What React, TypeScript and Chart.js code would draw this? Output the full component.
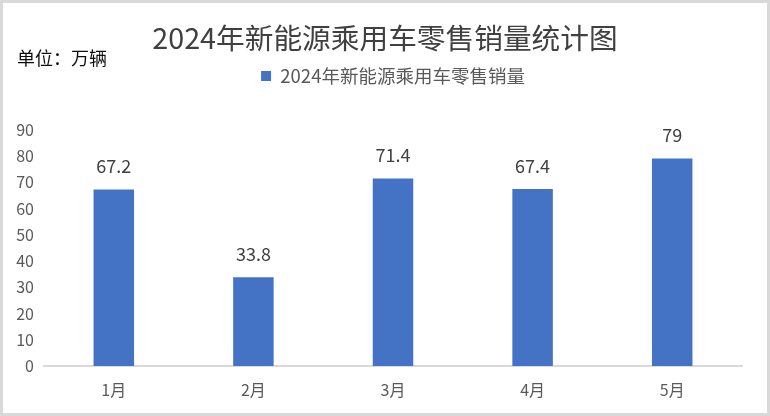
import React, { useEffect, useRef } from "react";
import { Chart, registerables } from "chart.js";

Chart.register(...registerables);

const categories = ["1月", "2月", "3月", "4月", "5月"];
const salesValues = [67.2, 33.8, 71.4, 67.4, 79];
const seriesName = "2024年新能源乘用车零售销量";
const chartTitle = "2024年新能源乘用车零售销量统计图";
const unitLabel = "单位：万辆";
const yTicks = { min: 0, max: 90, step: 10 };

const FONT = "'Noto Sans CJK SC', 'Noto Sans', sans-serif";

export default function App() {
  const ref = useRef<HTMLCanvasElement | null>(null);

  useEffect(() => {
    if (!ref.current) return;
    Chart.defaults.font.family = FONT;

    const framePlugin = {
      id: "frame",
      beforeDraw(chart: any) {
        const ctx = chart.ctx;
        ctx.save();
        ctx.fillStyle = "#ffffff";
        ctx.fillRect(0, 0, chart.width, chart.height);
        ctx.strokeStyle = "#d9d9d9";
        ctx.lineWidth = 3;
        ctx.strokeRect(1.5, 1.5, chart.width - 3, chart.height - 3);
        ctx.restore();
      },
      afterDraw(chart: any) {
        const ctx = chart.ctx;
        ctx.save();
        ctx.fillStyle = "#0d0d0d";
        ctx.font = `18px ${FONT}`;
        ctx.textAlign = "left";
        ctx.textBaseline = "middle";
        ctx.fillText(unitLabel, 17, 58);
        ctx.restore();
      },
    };

    const labelPlugin = {
      id: "barLabels",
      afterDatasetsDraw(chart: any) {
        const ctx = chart.ctx;
        const meta = chart.getDatasetMeta(0);
        const data = chart.data.datasets[0].data;
        ctx.save();
        ctx.fillStyle = "#404040";
        ctx.font = `18px ${FONT}`;
        ctx.textAlign = "center";
        ctx.textBaseline = "middle";
        meta.data.forEach((bar: any, i: number) => {
          ctx.fillText(String(data[i]), bar.x, bar.y - 23);
        });
        ctx.restore();
      },
    };

    const chart = new Chart(ref.current, {
      type: "bar",
      data: {
        labels: categories,
        datasets: [
          {
            label: seriesName,
            data: salesValues,
            backgroundColor: "#4472C4",
            borderWidth: 0,
            barPercentage: 0.29,
            categoryPercentage: 1,
            xAxisID: "x",
            yAxisID: "y",
          },
        ],
      },
      options: {
        responsive: false,
        animation: false,
        layout: { padding: { left: 0, right: 0, top: 0, bottom: 0 } },
        plugins: {
          title: {
            display: true,
            text: chartTitle,
            color: "#404040",
            font: { size: 28.7, weight: "normal", family: FONT, lineHeight: 1.2 },
            padding: { top: 20.8, bottom: 0 },
          },
          legend: {
            display: true,
            position: "top",
            fullSize: false,
            labels: {
              boxWidth: 10,
              boxHeight: 10,
              padding: 11.5,
              color: "#595959",
              font: { size: 18.5, family: FONT },
            },
          },
          tooltip: { enabled: false },
        },
        scales: {
          gap: {
            type: "category",
            position: "top",
            display: true,
            grid: { display: false, drawTicks: false },
            border: { display: false },
            ticks: { display: false },
            afterFit(s: any) {
              s.height = 34.5;
            },
          },
          gapRight: {
            type: "linear",
            position: "right",
            display: true,
            grid: { display: false, drawTicks: false },
            border: { display: false },
            ticks: { display: false },
            afterFit(s: any) {
              s.width = 28;
            },
          },
          x: {
            type: "category",
            position: "bottom",
            grid: { display: false, drawTicks: false },
            border: { display: true, color: "#d9d9d9", width: 2 },
            ticks: {
              color: "#595959",
              font: { size: 16, family: FONT },
              padding: 14,
            },
            afterFit(s: any) {
              s.height = 50;
            },
          },
          y: {
            type: "linear",
            position: "left",
            min: yTicks.min,
            max: yTicks.max,
            grid: { display: false, drawTicks: false },
            border: { display: false },
            ticks: {
              stepSize: yTicks.step,
              color: "#595959",
              font: { size: 16, family: FONT },
              padding: 10,
            },
            afterFit(s: any) {
              s.width = 44;
            },
          },
        },
      },
      plugins: [framePlugin, labelPlugin],
    } as any);

    return () => chart.destroy();
  }, []);

  return (
    <div style={{ position: "fixed", left: 0, top: 0, width: 770, height: 416 }}>
      <canvas ref={ref} width={770} height={416} />
    </div>
  );
}
